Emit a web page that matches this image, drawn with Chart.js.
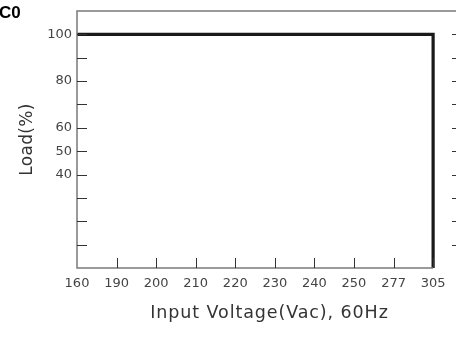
<!DOCTYPE html>
<html><head><meta charset="utf-8">
<script src="https://cdn.jsdelivr.net/npm/chart.js@4"></script>
<style>
html,body{margin:0;padding:0;background:#fff;}
#wrap{position:relative;width:456px;height:345px;overflow:hidden;}
#c{position:absolute;left:0;top:0;}
#frag{position:absolute;left:-1px;top:3px;font:bold 17px "Liberation Sans",Arial,sans-serif;color:#000;}
</style></head>
<body><div id="wrap"><canvas id="c" width="463" height="345"></canvas><div id="frag">C0</div></div>
<script>
// Data
const voltages = ['160','190','200','210','220','230','240','250','277','305'];
const lineVoltage = ['160','305','305'];
const lineLoad = [100, 100, 0];
const loadTicks = [10,20,30,40,50,60,70,80,90,100];
const loadLabels = [100,80,60,50,40];

const points = lineVoltage.map((v,i)=>({x: voltages.indexOf(v), y: lineLoad[i]}));
const FONT = '"DejaVu Sans", sans-serif';

function spaceTitle(scale, spacing){
  if(scale._spaced) return;
  const orig = scale.drawTitle.bind(scale);
  scale.drawTitle = function(){
    const c = this.ctx, prev = c.letterSpacing;
    c.letterSpacing = spacing; orig(); c.letterSpacing = prev;
  };
  scale._spaced = true;
}

const framePlugin = {
  id:'frame',
  beforeDraw(chart){
    spaceTitle(chart.scales.x, '0.9px');
    spaceTitle(chart.scales.y, '0.3px');
  },
  afterDatasetsDraw(chart){
    const {ctx, chartArea:a, scales:{x,y}} = chart;
    ctx.save();
    ctx.strokeStyle='#7a7a7a'; ctx.lineWidth=1.5;
    const xEnd = x.getPixelForValue(voltages.length-1);
    ctx.beginPath();
    ctx.moveTo(a.right, a.top); ctx.lineTo(a.left, a.top); ctx.lineTo(a.left, a.bottom); ctx.lineTo(xEnd, a.bottom);
    ctx.moveTo(a.right, a.top); ctx.lineTo(a.right, a.bottom);
    ctx.stroke();
    ctx.strokeStyle='#333'; ctx.lineWidth=1;
    const L=10;
    y.ticks.forEach(t=>{
      const py=Math.round(y.getPixelForValue(t.value))+0.5;
      ctx.beginPath(); ctx.moveTo(a.left,py); ctx.lineTo(a.left+L,py); ctx.stroke();
      ctx.beginPath(); ctx.moveTo(a.right,py); ctx.lineTo(a.right-L,py); ctx.stroke();
    });
    x.ticks.forEach(t=>{
      if(t.value===0) return;
      const px=Math.round(x.getPixelForValue(t.value))+0.5;
      ctx.beginPath(); ctx.moveTo(px,a.bottom); ctx.lineTo(px,a.bottom-L); ctx.stroke();
    });
    ctx.restore();
  }
};

new Chart(document.getElementById('c'), {
  type:'line',
  data:{datasets:[{data:points, borderColor:'#1a1a1a', borderWidth:3.2, pointRadius:0, fill:false, tension:0, borderJoinStyle:'miter', clip:false}]},
  options:{
    responsive:false, animation:false,
    layout:{padding:{top:11,right:1,left:0,bottom:0}},
    plugins:{legend:{display:false}, tooltip:{enabled:false}},
    scales:{
      x:{type:'linear', min:0, max:9.73,
        afterBuildTicks:s=>{s.ticks=voltages.map((v,i)=>({value:i}));},
        afterFit:s=>{s.height=77; s.paddingLeft=0; s.paddingRight=0;},
        grid:{display:false, drawTicks:false},
        border:{display:false},
        ticks:{autoSkip:false, maxRotation:0, padding:8, color:'#444', font:{family:FONT,size:13},
          callback:(v)=>voltages[v]},
        title:{display:true, text:'Input Voltage(Vac), 60Hz', color:'#333', font:{family:FONT,size:17.5}, padding:{top:0,bottom:21}}
      },
      y:{type:'linear', min:0, max:110,
        afterBuildTicks:s=>{s.ticks=loadTicks.map(v=>({value:v}));},
        afterFit:s=>{s.width=77; s.paddingTop=0; s.paddingBottom=0;},
        grid:{display:false, drawTicks:false},
        border:{display:false},
        ticks:{autoSkip:false, padding:5, color:'#444', font:{family:FONT,size:13},
          callback:(v)=>loadLabels.includes(v)?String(v):''},
        title:{display:true, text:'Load(%)', color:'#333', font:{family:FONT,size:17}, padding:{top:17,bottom:0}}
      }
    }
  },
  plugins:[framePlugin]
});
</script>
</body></html>
